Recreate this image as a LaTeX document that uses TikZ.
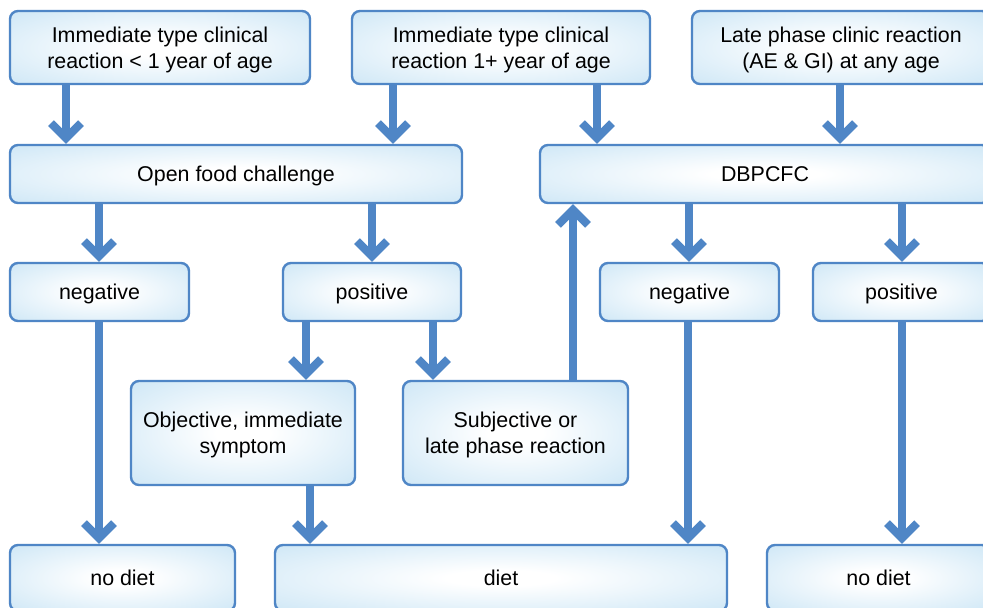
\documentclass[tikz,border=0pt]{standalone}
\usepackage{fontspec}
\setmainfont{Liberation Sans}
\usetikzlibrary{arrows.meta}
\definecolor{edgeblue}{RGB}{79,134,198}
\definecolor{fillblue}{RGB}{190,223,243}
\pgfdeclareradialshading{boxshade}{\pgfpointorigin}{color(0bp)=(white); color(6bp)=(white); color(46bp)=(fillblue); color(70bp)=(fillblue)}
\tikzset{
  box/.style={draw=edgeblue, line width=2.4pt, rounded corners=8pt, shading=boxshade,
    align=center, text=black, font=\fontsize{21.4}{26}\selectfont, inner sep=0pt, text depth=0pt},
  flow/.style={draw=edgeblue, line width=8pt, -{Straight Barb[length=15pt,width=30pt]}}
}
\begin{document}
\begin{tikzpicture}[x=1pt,y=-1pt]
\clip (0,0) rectangle (983,608);
\fill[white] (0,0) rectangle (983,608);
% row 1
\node[box, minimum width=300, minimum height=73] (a) at (160,47.5) {Immediate type clinical\\reaction < 1 year of age};
\node[box, minimum width=298, minimum height=73] (b) at (501,47.5) {Immediate type clinical\\reaction 1+ year of age};
\node[box, minimum width=298, minimum height=73] (c) at (841,47.5) {Late phase clinic reaction\\(AE \& GI) at any age};
% row 2
\node[box, minimum width=452, minimum height=58] (ofc) at (236,174) {Open food challenge};
\node[box, minimum width=450, minimum height=58] (dbp) at (765,174) {DBPCFC};
% row 3
\node[box, minimum width=179, minimum height=58] (negl) at (99.5,292) {negative};
\node[box, minimum width=178, minimum height=58] (posl) at (372,292) {positive};
\node[box, minimum width=179, minimum height=58] (negr) at (689.5,292) {negative};
\node[box, minimum width=177, minimum height=58] (posr) at (901.5,292) {positive};
% row 4
\node[box, minimum width=224, minimum height=104] (obj) at (243,433) {Objective, immediate\\symptom};
\node[box, minimum width=225, minimum height=104] (subj) at (515.5,433) {Subjective or\\late phase reaction};
% row 5
\node[box, minimum width=225, minimum height=66] (nol) at (122.5,578) {no diet};
\node[box, minimum width=452, minimum height=66] (diet) at (501,578) {diet};
\node[box, minimum width=223, minimum height=66] (nor) at (878.5,578) {no diet};
% arrows
\draw[flow] (a.south -| 66,0) -- (ofc.north -| 66,0);
\draw[flow] (b.south -| 393,0) -- (ofc.north -| 393,0);
\draw[flow] (b.south -| 597,0) -- (dbp.north -| 597,0);
\draw[flow] (c.south -| 840,0) -- (dbp.north -| 840,0);
\draw[flow] (ofc.south -| 99,0) -- (negl.north -| 99,0);
\draw[flow] (ofc.south -| 372,0) -- (posl.north -| 372,0);
\draw[flow] (dbp.south -| 689,0) -- (negr.north -| 689,0);
\draw[flow] (dbp.south -| 902,0) -- (posr.north -| 902,0);
\draw[flow] (posl.south -| 306,0) -- (obj.north -| 306,0);
\draw[flow] (posl.south -| 433,0) -- (subj.north -| 433,0);
\draw[flow] (subj.north -| 573,0) -- (dbp.south -| 573,0);
\draw[flow] (negl.south -| 99,0) -- (nol.north -| 99,0);
\draw[flow] (obj.south -| 310,0) -- (diet.north -| 310,0);
\draw[flow] (negr.south -| 688,0) -- (diet.north -| 688,0);
\draw[flow] (posr.south -| 902,0) -- (nor.north -| 902,0);
\end{tikzpicture}
\end{document}
